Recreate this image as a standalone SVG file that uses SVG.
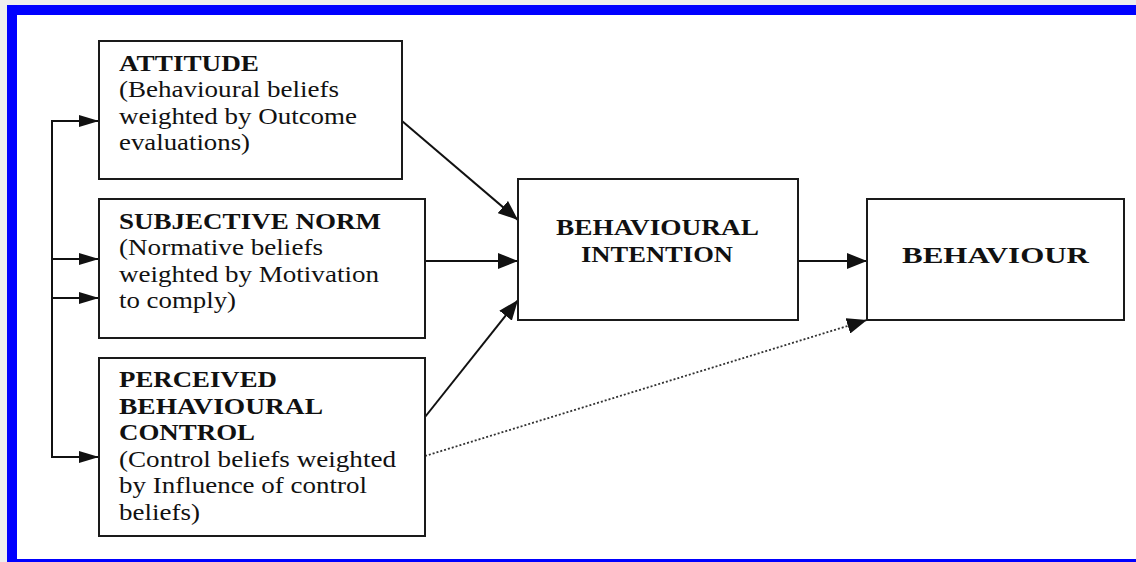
<svg xmlns="http://www.w3.org/2000/svg" width="1136" height="562" viewBox="0 0 1136 562">
  <style>
    .box { fill: #ffffff; stroke: #1a1a1a; stroke-width: 2; }
    .t { font-family: "Liberation Serif", "Times New Roman", serif; font-size: 22.5px; fill: #111111; }
    .b { font-weight: bold; }
    .c { text-anchor: middle; }
    .conn { stroke: #111111; stroke-width: 2; fill: none; }
    .dot { stroke: #333333; stroke-width: 1.8; fill: none; stroke-dasharray: 2 2; }
  </style>
  <defs>
    <marker id="arrS" markerUnits="userSpaceOnUse" markerWidth="20" markerHeight="12" refX="20" refY="6" orient="auto">
      <path d="M0,0 L20,6 L0,12 z" fill="#111111"/>
    </marker>
    <marker id="arrL" markerUnits="userSpaceOnUse" markerWidth="20" markerHeight="16" refX="20" refY="8" orient="auto">
      <path d="M0,0 L20,8 L0,16 z" fill="#111111"/>
    </marker>
  </defs>

  <rect x="0" y="0" width="1136" height="562" fill="#eeeeee"/>
  <rect x="12" y="10" width="1200" height="554" fill="#ffffff" stroke="#0000ff" stroke-width="10"/>

  <g id="connectors">
    <line class="conn" x1="52" y1="120" x2="52" y2="458"/>
    <line class="conn" x1="51" y1="121" x2="99" y2="121" marker-end="url(#arrS)"/>
    <line class="conn" x1="52" y1="259" x2="99" y2="259" marker-end="url(#arrS)"/>
    <line class="conn" x1="52" y1="298" x2="99" y2="298" marker-end="url(#arrS)"/>
    <line class="conn" x1="51" y1="457" x2="99" y2="457" marker-end="url(#arrS)"/>
    <line class="conn" x1="402" y1="121" x2="518" y2="220" marker-end="url(#arrL)"/>
    <line class="conn" x1="425" y1="261" x2="518" y2="261" marker-end="url(#arrL)"/>
    <line class="conn" x1="425" y1="417" x2="518" y2="300" marker-end="url(#arrL)"/>
    <line class="conn" x1="798" y1="261" x2="867" y2="261" marker-end="url(#arrL)"/>
    <line class="dot" x1="425" y1="456" x2="867" y2="320" marker-end="url(#arrL)"/>
  </g>

  <g id="attitude">
    <rect class="box" x="99" y="41" width="303" height="138"/>
    <text class="t b" x="119" y="71" textLength="140" lengthAdjust="spacingAndGlyphs">ATTITUDE</text>
    <text class="t" x="119" y="97.3" textLength="220" lengthAdjust="spacingAndGlyphs">(Behavioural beliefs</text>
    <text class="t" x="119" y="123.6" textLength="238" lengthAdjust="spacingAndGlyphs">weighted by Outcome</text>
    <text class="t" x="119" y="150" textLength="131" lengthAdjust="spacingAndGlyphs">evaluations)</text>
  </g>

  <g id="subjective-norm">
    <rect class="box" x="99" y="199" width="326" height="139"/>
    <text class="t b" x="119" y="229" textLength="262" lengthAdjust="spacingAndGlyphs">SUBJECTIVE NORM</text>
    <text class="t" x="119" y="255.3" textLength="204" lengthAdjust="spacingAndGlyphs">(Normative beliefs</text>
    <text class="t" x="119" y="281.6" textLength="260" lengthAdjust="spacingAndGlyphs">weighted by Motivation</text>
    <text class="t" x="119" y="308" textLength="117" lengthAdjust="spacingAndGlyphs">to comply)</text>
  </g>

  <g id="perceived-behavioural-control">
    <rect class="box" x="99" y="358" width="326" height="178"/>
    <text class="t b" x="119" y="387" textLength="158" lengthAdjust="spacingAndGlyphs">PERCEIVED</text>
    <text class="t b" x="119" y="413.5" textLength="204" lengthAdjust="spacingAndGlyphs">BEHAVIOURAL</text>
    <text class="t b" x="119" y="440" textLength="136" lengthAdjust="spacingAndGlyphs">CONTROL</text>
    <text class="t" x="119" y="466.5" textLength="277" lengthAdjust="spacingAndGlyphs">(Control beliefs weighted</text>
    <text class="t" x="119" y="493" textLength="248" lengthAdjust="spacingAndGlyphs">by Influence of control</text>
    <text class="t" x="119" y="519.5" textLength="81" lengthAdjust="spacingAndGlyphs">beliefs)</text>
  </g>

  <g id="behavioural-intention">
    <rect class="box" x="518" y="179" width="280" height="141"/>
    <text class="t b c" x="657.5" y="235" textLength="203" lengthAdjust="spacingAndGlyphs">BEHAVIOURAL</text>
    <text class="t b c" x="657" y="262" textLength="152" lengthAdjust="spacingAndGlyphs">INTENTION</text>
  </g>

  <g id="behaviour">
    <rect class="box" x="867" y="199" width="257" height="121"/>
    <text class="t b c" x="995.5" y="262.5" style="font-size:24px" textLength="187" lengthAdjust="spacingAndGlyphs">BEHAVIOUR</text>
  </g>
</svg>
